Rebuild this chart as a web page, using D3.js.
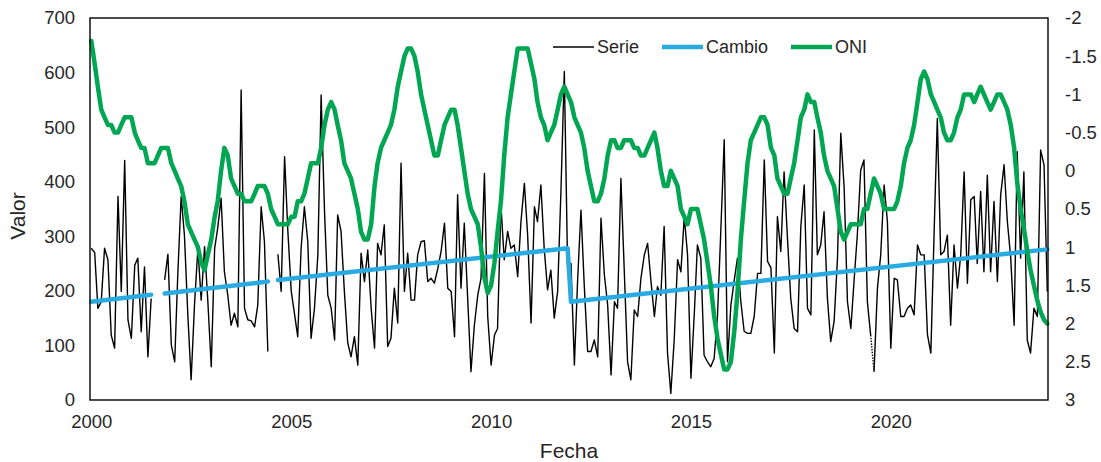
<!DOCTYPE html>
<html>
<head>
<meta charset="utf-8">
<script src="https://cdn.jsdelivr.net/npm/d3@7"></script>
<style>
  body { margin: 0; background: #fff }
  svg { display: block; font-family: "Liberation Sans", Arial, sans-serif }
</style>
</head>
<body>
<svg id="chart" width="1101" height="462"></svg>
<script>
const startYear = 2000

// monthly values, Jan 2000 .. Dec 2023 (null = no data)
const serie = [
  278, 270, 168, 180, 278, 257, 119, 95, 373, 199, 439, 147,
  113, 247, 260, 125, 244, 79, 186, null, null, null, 220, 267,
  101, 70, 229, 373, 302, 156, 37, 174, 278, 183, 281, 180,
  61, 278, 315, 370, 235, 192, 137, 159, 134, 568, 168, 147,
  145, 134, 174, 354, 290, 89, null, null, 267, 199, 446, 309,
  199, 156, 116, 278, 354, 290, 113, 168, 266, 559, 345, 192,
  168, 110, 339, 309, 200, 105, 79, 116, 64, 269, 217, 275,
  168, 95, 287, 266, 321, 98, 113, 205, 141, 434, 199, 269,
  183, 183, 266, 290, 292, 217, 223, 214, 241, 272, 324, 205,
  199, 116, 376, 205, 324, 186, 52, 137, 192, 223, 415, 153,
  64, 119, 131, 357, 257, 309, 278, 284, 226, 327, 397, 302,
  141, 354, 327, 394, 278, 202, 238, 150, 199, 382, 602, 244,
  250, 64, 217, 348, 211, 89, 89, 110, 79, 333, 229, 174,
  46, 180, 168, 406, 241, 70, 37, 165, 153, 223, 266, 287,
  217, 153, 208, 192, 318, 86, 12, 110, 257, 235, 336, 266,
  40, 160, 284, 260, 82, 70, 61, 76, 156, 311, 477, 70,
  174, 220, 260, 180, 126, 122, 122, 153, 232, 232, 440, 254,
  242, 86, 336, 272, 418, 296, 186, 131, 125, 318, 394, 168,
  156, 495, 266, 284, 345, 186, 107, 144, 260, 489, 388, 180,
  131, 223, 302, 421, 440, 180, 119, 52, 205, 266, 394, 327,
  95, 223, 220, 153, 153, 168, 174, 156, 284, 266, 266, 120,
  86, 315, 516, 266, 272, 302, 137, 284, 205, 266, 418, 214,
  367, 373, 250, 382, 235, 412, 235, 364, 217, 376, 431, 327,
  260, 137, 455, 260, 418, 110, 86, 168, 153, 458, 431, 199
]
// the one dotted piece of Serie (month index where it starts)
const serieDottedAt = 234

const oni = [
  -1.7, -1.4, -1.1, -0.8, -0.7, -0.6, -0.6, -0.5, -0.5, -0.6, -0.7, -0.7,
  -0.7, -0.5, -0.4, -0.3, -0.3, -0.1, -0.1, -0.1, -0.2, -0.3, -0.3, -0.3,
  -0.1, 0.0, 0.1, 0.2, 0.4, 0.7, 0.8, 0.9, 1.0, 1.2, 1.3, 1.1,
  0.9, 0.6, 0.4, 0.0, -0.3, -0.2, 0.1, 0.2, 0.3, 0.3, 0.4, 0.4,
  0.4, 0.3, 0.2, 0.2, 0.2, 0.3, 0.5, 0.6, 0.7, 0.7, 0.7, 0.7,
  0.6, 0.6, 0.4, 0.4, 0.3, 0.1, -0.1, -0.1, -0.1, -0.3, -0.6, -0.8,
  -0.9, -0.8, -0.6, -0.4, -0.1, 0.0, 0.1, 0.3, 0.5, 0.8, 0.9, 0.9,
  0.7, 0.2, -0.1, -0.3, -0.4, -0.5, -0.6, -0.8, -1.1, -1.3, -1.5, -1.6,
  -1.6, -1.5, -1.3, -1.0, -0.8, -0.6, -0.4, -0.2, -0.2, -0.4, -0.6, -0.7,
  -0.8, -0.8, -0.6, -0.3, 0.0, 0.3, 0.5, 0.6, 0.7, 1.0, 1.4, 1.6,
  1.5, 1.2, 0.8, 0.4, -0.2, -0.7, -1.0, -1.3, -1.6, -1.6, -1.6, -1.6,
  -1.4, -1.2, -0.9, -0.7, -0.6, -0.4, -0.5, -0.6, -0.8, -1.0, -1.1, -1.0,
  -0.9, -0.7, -0.6, -0.5, -0.3, 0.0, 0.2, 0.4, 0.4, 0.3, 0.1, -0.2,
  -0.4, -0.4, -0.3, -0.3, -0.4, -0.4, -0.4, -0.3, -0.3, -0.2, -0.2, -0.3,
  -0.4, -0.5, -0.3, 0.0, 0.2, 0.2, 0.0, 0.1, 0.2, 0.5, 0.6, 0.7,
  0.5, 0.5, 0.5, 0.7, 0.9, 1.2, 1.5, 1.9, 2.2, 2.4, 2.6, 2.6,
  2.5, 2.1, 1.6, 0.9, 0.4, -0.1, -0.4, -0.5, -0.6, -0.7, -0.7, -0.6,
  -0.3, -0.2, 0.1, 0.2, 0.3, 0.3, 0.1, -0.1, -0.4, -0.7, -0.8, -1.0,
  -0.9, -0.9, -0.7, -0.5, -0.2, 0.0, 0.1, 0.2, 0.5, 0.8, 0.9, 0.8,
  0.7, 0.7, 0.7, 0.7, 0.5, 0.5, 0.3, 0.1, 0.2, 0.3, 0.5, 0.5,
  0.5, 0.5, 0.4, 0.2, -0.1, -0.3, -0.4, -0.6, -0.9, -1.2, -1.3, -1.2,
  -1.0, -0.9, -0.8, -0.7, -0.5, -0.4, -0.4, -0.5, -0.7, -0.8, -1.0, -1.0,
  -1.0, -0.9, -1.0, -1.1, -1.0, -0.9, -0.8, -0.9, -1.0, -1.0, -0.9, -0.8,
  -0.6, -0.3, 0.15, 0.5, 0.75, 1.05, 1.3, 1.5, 1.7, 1.85, 1.95, 2.0
]

// Cambio: break points of the trend (month index, value), null = gap
const cambioMonth = [0, 18, null, 22, 53, null, 56, 143, 144, 287]
const cambioValue = [180, 193, null, 195, 217, null, 220, 278, 180, 276]

const leftTicks = [0, 100, 200, 300, 400, 500, 600, 700]
const rightTicks = [-2, -1.5, -1, -0.5, 0, 0.5, 1, 1.5, 2, 2.5, 3]
const yearTicks = [2000, 2005, 2010, 2015, 2020]
const legendNames = ['Serie', 'Cambio', 'ONI']

const colors = { Serie: '#000', Cambio: '#29abe2', ONI: '#00a651' }
const textColor = '#262626'
const plot = { left: 90, right: 1048, top: 18, bottom: 400 }

const monthDate = i => new Date(startYear, i, 1)

const x = d3.scaleTime()
  .domain([monthDate(0), monthDate(serie.length - 1)])
  .range([plot.left + 1.3, plot.right - 0.7])
const yLeft = d3.scaleLinear().domain([0, 700]).range([plot.bottom, plot.top])
const yRight = d3.scaleLinear().domain([-2, 3]).range([plot.top, plot.bottom])

const svg = d3.select('#chart')

// axes
const leftAxis = d3.axisLeft(yLeft).tickValues(leftTicks).tickSize(0).tickPadding(15)
const rightAxis = d3.axisRight(yRight).tickValues(rightTicks).tickSize(0).tickPadding(17)
  .tickFormat(d => String(d))
const bottomAxis = d3.axisBottom(x).tickValues(yearTicks.map(y => new Date(y, 0, 1)))
  .tickSize(0).tickPadding(15).tickFormat(d3.timeFormat('%Y'))

function styleAxis(g) {
  g.select('.domain').remove()
  g.selectAll('text').attr('fill', textColor).style('font-size', '18.5px')
    .style('font-family', '"Liberation Sans", Arial, sans-serif')
}

svg.append('g').attr('transform', `translate(${plot.left},0)`).call(leftAxis).call(styleAxis)
svg.append('g').attr('transform', `translate(${plot.right},0)`).call(rightAxis).call(styleAxis)
svg.append('g').attr('transform', `translate(0,${plot.bottom})`).call(bottomAxis).call(styleAxis)

// series
const serieLine = d3.line()
  .defined(i => serie[i] != null)
  .x(i => x(monthDate(i)))
  .y(i => yLeft(serie[i]))

const idx = d3.range(serie.length)
const series = svg.append('g')

series.append('path')
  .attr('d', serieLine(idx.slice(0, serieDottedAt + 1)))
  .attr('fill', 'none').attr('stroke', colors.Serie).attr('stroke-width', 1.4)
  .attr('stroke-linejoin', 'round')
series.append('path')
  .attr('d', serieLine(idx.slice(serieDottedAt + 1)))
  .attr('fill', 'none').attr('stroke', colors.Serie).attr('stroke-width', 1.4)
  .attr('stroke-linejoin', 'round')
series.append('path')
  .attr('d', serieLine([serieDottedAt, serieDottedAt + 1]))
  .attr('fill', 'none').attr('stroke', colors.Serie).attr('stroke-width', 1.4)
  .attr('stroke-dasharray', '1.4,1.4')

const cambioLine = d3.line()
  .defined(i => cambioMonth[i] != null)
  .x(i => x(monthDate(cambioMonth[i])))
  .y(i => yLeft(cambioValue[i]))

series.append('path')
  .attr('d', cambioLine(d3.range(cambioMonth.length)))
  .attr('fill', 'none').attr('stroke', colors.Cambio).attr('stroke-width', 4.5)
  .attr('stroke-linecap', 'round').attr('stroke-linejoin', 'round')

const oniLine = d3.line()
  .x((d, i) => x(monthDate(i)))
  .y(d => yRight(d))

series.append('path')
  .attr('d', oniLine(oni))
  .attr('fill', 'none').attr('stroke', colors.ONI).attr('stroke-width', 4.5)
  .attr('stroke-linecap', 'round').attr('stroke-linejoin', 'round')

// frame
svg.append('rect')
  .attr('x', plot.left).attr('y', plot.top)
  .attr('width', plot.right - plot.left).attr('height', plot.bottom - plot.top)
  .attr('fill', 'none').attr('stroke', '#000').attr('stroke-width', 1.4)

// legend
const legendX = [553, 662, 791]
const legend = svg.append('g').attr('transform', 'translate(0,47)')
legendNames.forEach((name, i) => {
  legend.append('line')
    .attr('x1', legendX[i]).attr('x2', legendX[i] + 41)
    .attr('stroke', colors[name])
    .attr('stroke-width', name === 'Serie' ? 1.4 : 4.5)
  legend.append('text')
    .attr('x', legendX[i] + 44).attr('dy', '0.35em')
    .attr('fill', textColor).style('font-size', '18px')
    .text(name)
})

// axis titles
svg.append('text')
  .attr('transform', 'translate(25,216) rotate(-90)')
  .attr('text-anchor', 'middle')
  .attr('fill', textColor).style('font-size', '21px')
  .text('Valor')

svg.append('text')
  .attr('x', 569).attr('y', 458)
  .attr('text-anchor', 'middle')
  .attr('fill', textColor).style('font-size', '21px')
  .text('Fecha')
</script>
</body>
</html>
